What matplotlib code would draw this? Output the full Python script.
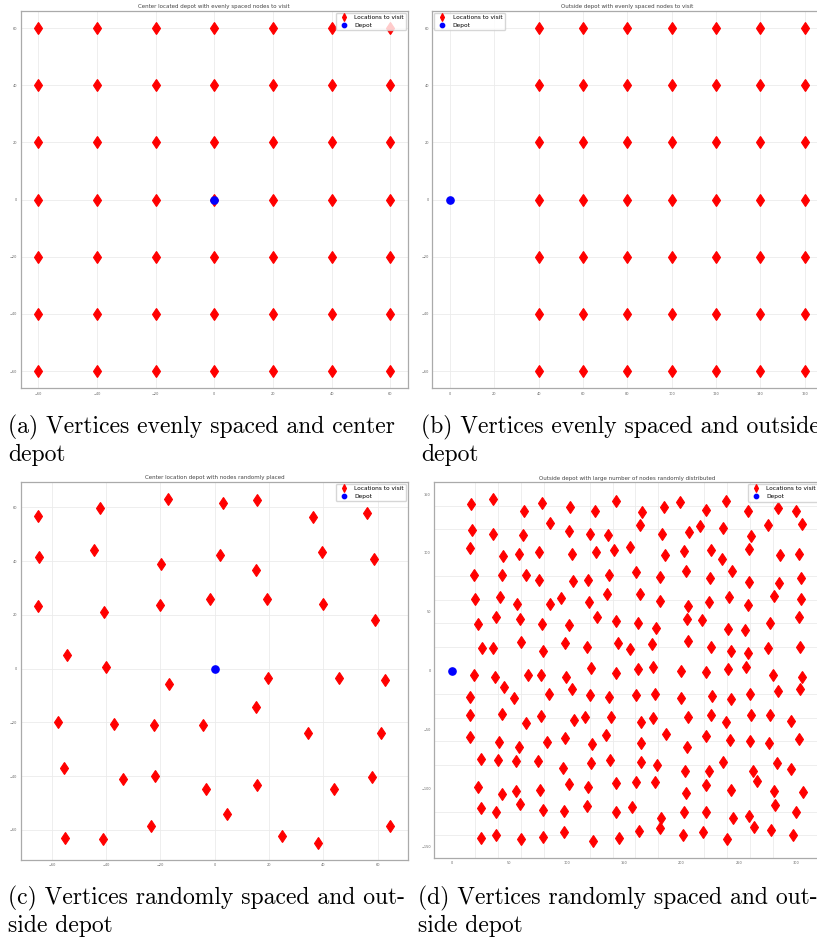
import numpy as np
import matplotlib.pyplot as plt

W, H = 817, 940

# evenly spaced layouts
cols_a = [-60, -40, -20, 0, 20, 40, 60]
cols_b = [40, 60, 80, 100, 120, 140, 160]
rows_ab = [60, 40, 20, 0, -20, -40, -60]
depot = [0, 0]

# center depot, nodes randomly placed
x_c = [-65.0, -42.3, -17.2, 2.9, 15.6, 36.3, 56.1,
       -64.6, -44.6, -19.7, 1.8, 15.2, 39.5, 58.5,
       -65.0, -40.8, -20.0, -1.7, 19.4, 40.0, 59.2,
       -54.5, -40.2, -16.8, 19.5, 45.6, 62.6, 15.2,
       -57.6, -37.3, -22.3, -4.3, 34.3, 61.3,
       -55.4, -33.9, -21.9, -3.3, 15.4, 43.9, 58.1,
       4.5, -23.4, 64.7, -55.0, -41.3, 24.8, 38.1]
y_c = [56.8, 59.9, 63.0, 61.7, 62.7, 56.4, 57.7,
       41.6, 44.2, 39.0, 42.1, 36.8, 43.5, 40.6,
       23.3, 21.1, 23.7, 25.7, 26.0, 24.0, 18.0,
       5.0, 0.6, -5.6, -3.6, -3.6, -4.2, -14.4,
       -19.8, -20.6, -21.1, -21.1, -24.0, -24.0,
       -37.0, -41.2, -40.1, -44.8, -43.3, -44.6, -40.4,
       -54.1, -58.4, -58.4, -62.9, -63.2, -62.2, -64.8]

# outside depot, large number of nodes
x_d = [16.8, 35.7, 63.3, 78.7, 103.1, 124.6, 143.1, 165.5, 184.6, 198.9, 221.8, 238.9, 258.4, 284.2, 299.9,
       17.7, 35.7, 61.6, 85.9, 101.9, 120.5, 136.2, 164.0, 182.9, 206.7, 216.0, 236.6, 260.4, 275.9, 305.4,
       15.4, 45.0, 58.4, 76.1, 104.5, 126.0, 141.7, 155.6, 185.8, 202.6, 225.9, 235.8, 259.3, 286.0, 302.1,
       19.5, 43.3, 65.0, 75.8, 105.4, 118.5, 137.0, 160.5, 181.2, 204.4, 225.0, 244.2, 258.9, 285.4, 304.3,
       20.0, 42.1, 56.6, 85.1, 95.2, 119.6, 135.0, 163.7, 181.7, 205.9, 223.9, 241.3, 258.4, 281.1, 304.3,
       22.9, 38.6, 59.8, 78.7, 102.2, 126.6, 143.4, 162.3, 177.7, 204.7, 217.8, 240.9, 255.2, 277.3, 302.5,
       26.1, 36.0, 60.4, 79.8, 98.7, 117.9, 144.9, 155.3, 174.8, 205.8, 225.9, 243.6, 257.8, 275.5, 303.4,
       18.9, 37.2, 66.2, 78.1, 99.6, 121.4, 142.9, 162.6, 175.3, 200.1, 221.5, 240.4, 256.4, 280.0, 304.8,
       15.4, 45.3, 54.6, 84.8, 104.8, 120.2, 137.0, 160.5, 177.1, 200.0, 226.7, 243.6, 260.1, 283.9, 303.1,
       15.7, 43.3, 64.2, 77.5, 106.3, 116.1, 138.8, 164.6, 175.0, 205.8, 225.9, 239.2, 260.4, 277.3, 295.8,
       15.4, 40.7, 58.7, 82.5, 99.0, 122.0, 134.7, 164.9, 186.4, 205.3, 221.8, 242.4, 260.1, 276.4, 302.3,
       25.8, 40.4, 56.0, 75.5, 96.7, 121.4, 138.2, 164.9, 178.5, 202.9, 223.8, 236.3, 262.8, 283.6, 295.8,
       22.9, 43.6, 55.7, 76.7, 101.9, 119.0, 143.4, 160.5, 177.1, 204.1, 221.8, 243.3, 266.0, 280.7, 305.7,
       25.0, 38.3, 59.8, 79.0, 97.6, 117.9, 143.4, 157.1, 182.0, 202.6, 221.2, 245.3, 258.7, 281.3, 299.9,
       25.3, 38.6, 60.1, 79.6, 97.6, 122.8, 145.5, 163.4, 181.2, 201.2, 218.6, 239.8, 263.3, 277.9, 297.1]
y_d = [141.2, 145.5, 135.6, 142.7, 139.0, 135.6, 144.4, 134.7, 138.7, 143.2, 136.2, 144.1, 135.6, 138.4, 135.6,
       119.5, 116.4, 115.5, 125.7, 118.9, 115.8, 115.5, 123.4, 115.8, 118.1, 122.9, 121.5, 114.4, 123.4, 124.6,
       104.2, 97.7, 99.4, 101.1, 99.4, 101.1, 102.3, 105.1, 98.3, 101.4, 102.5, 95.2, 103.4, 98.0, 99.4,
       81.1, 81.4, 81.6, 76.8, 76.0, 76.8, 80.8, 83.6, 79.7, 84.5, 78.5, 84.5, 75.1, 74.3, 78.8,
       60.5, 62.1, 56.5, 56.2, 61.9, 58.2, 64.7, 65.3, 58.8, 54.8, 57.9, 62.1, 55.9, 63.3, 60.7,
       39.5, 45.8, 43.5, 39.5, 39.0, 45.2, 42.1, 40.7, 36.2, 44.1, 42.9, 35.0, 34.5, 40.4, 45.5,
       18.9, 18.9, 24.3, 16.9, 23.2, 20.1, 23.2, 18.1, 22.6, 25.4, 20.1, 16.9, 15.0, 19.5, 20.1,
       -3.4, -5.1, -3.4, -4.2, -5.4, 2.5, -2.0, 1.2, 2.8, -0.3, -1.5, 1.1, 2.8, -4.0, -5.4,
       -22.9, -13.8, -23.7, -20.3, -16.1, -20.9, -22.6, -20.9, -19.8, -23.4, -22.0, -24.3, -20.3, -17.2, -15.3,
       -38.1, -37.0, -44.6, -38.4, -42.1, -39.5, -39.3, -43.8, -40.1, -39.5, -38.1, -43.8, -38.1, -38.1, -43.2,
       -56.5, -60.7, -64.7, -61.0, -57.3, -62.4, -55.1, -61.6, -54.0, -64.7, -55.4, -59.3, -59.6, -61.6, -57.9,
       -74.9, -75.7, -77.1, -76.6, -82.5, -78.8, -75.7, -77.4, -80.2, -85.0, -85.0, -77.4, -85.0, -78.8, -83.3,
       -99.4, -105.1, -102.5, -101.7, -96.3, -99.4, -95.8, -94.9, -94.6, -104.2, -97.5, -101.4, -93.5, -102.5, -103.1,
       -116.7, -120.3, -113.6, -118.6, -119.5, -115.3, -120.3, -116.4, -125.1, -120.6, -120.6, -125.1, -123.7, -114.4, -120.1,
       -142.4, -139.5, -142.9, -141.2, -137.6, -144.6, -142.7, -136.2, -133.6, -139.8, -137.0, -143.5, -133.3, -135.3, -139.5]

titles = ["Center located depot with evenly spaced nodes to visit",
          "Outside depot with evenly spaced nodes to visit",
          "Center location depot with nodes randomly placed",
          "Outside depot with large number of nodes randomly distributed"]
captions = [("(a) Vertices evenly spaced and center", "depot"),
            ("(b) Vertices evenly spaced and outside", "depot"),
            ("(c) Vertices randomly spaced and out-", "side depot"),
            ("(d) Vertices randomly spaced and out-", "side depot")]

fig = plt.figure(figsize=(W / 100, H / 100), dpi=100)


def make_ax(l, t, r, b):
    return fig.add_axes([l / W, 1 - b / H, (r - l) / W, (b - t) / H])


def draw(ax, xs, ys, title, loc):
    ax.plot(xs, ys, 'd', color='red', ms=6.4, mew=0.8, label='Locations to visit', zorder=3)
    ax.plot(depot[0], depot[1], 'o', color='blue', ms=5.2, label='Depot', zorder=3)
    ax.set_title(title, fontsize=4.0, color='#444444', pad=2)
    ax.grid(True, color='#ebebeb', lw=0.6)
    ax.set_axisbelow(True)
    ax.tick_params(length=0, labelsize=2.5, labelcolor='#666666', pad=2.5)
    for s in ax.spines.values():
        s.set_color('#aaaaaa')
        s.set_linewidth(0.9)
    ax.legend(loc=loc, fontsize=4.2, markerscale=0.6, labelspacing=0.45,
              borderaxespad=0.3, framealpha=0.8, edgecolor='#cccccc')


ax_a = make_ax(20.5, 11, 408, 388.3)
gx, gy = np.meshgrid(cols_a, rows_ab)
draw(ax_a, gx.ravel(), gy.ravel(), titles[0], 'upper right')
ax_a.set_xticks(cols_a)
ax_a.set_yticks(rows_ab)

ax_b = make_ax(432.3, 11, 822.5, 388.3)
gx, gy = np.meshgrid(cols_b, rows_ab)
draw(ax_b, gx.ravel(), gy.ravel(), titles[1], 'upper left')
ax_b.set_xticks([0, 20] + cols_b)
ax_b.set_yticks(rows_ab)

ax_c = make_ax(20.7, 482, 408, 860)
draw(ax_c, x_c, y_c, titles[2], 'upper right')
ax_c.set_xticks(cols_a)
ax_c.set_yticks(rows_ab)

ax_d = make_ax(434.3, 482.3, 820.2, 857.7)
draw(ax_d, x_d, y_d, titles[3], 'upper right')
ax_d.set_xticks([0, 50, 100, 150, 200, 250, 300])
ax_d.set_yticks([150, 100, 50, 0, -50, -100, -150])
ax_d.set_xticks(np.arange(0, 321, 20), minor=True)
ax_d.set_yticks(np.arange(-140, 141, 20), minor=True)
ax_d.tick_params(which='minor', length=0)
ax_d.grid(False, which='major')
ax_d.grid(True, which='minor', color='#ebebeb', lw=0.6)

# captions below each panel (the right-hand ones run off the page, as in the source)
cap_pos = [(8, 433.3), (421, 433.3), (8, 904.3), (418, 904.3)]
for (x0, y0), (l1, l2) in zip(cap_pos, captions):
    fig.text(x0 / W, 1 - y0 / H, l1, family='cmr10', fontsize=17.0, va='baseline')
    fig.text(x0 / W, 1 - (y0 + 28) / H, l2, family='cmr10', fontsize=17.0, va='baseline')

fig.savefig('out.png', dpi=100)
